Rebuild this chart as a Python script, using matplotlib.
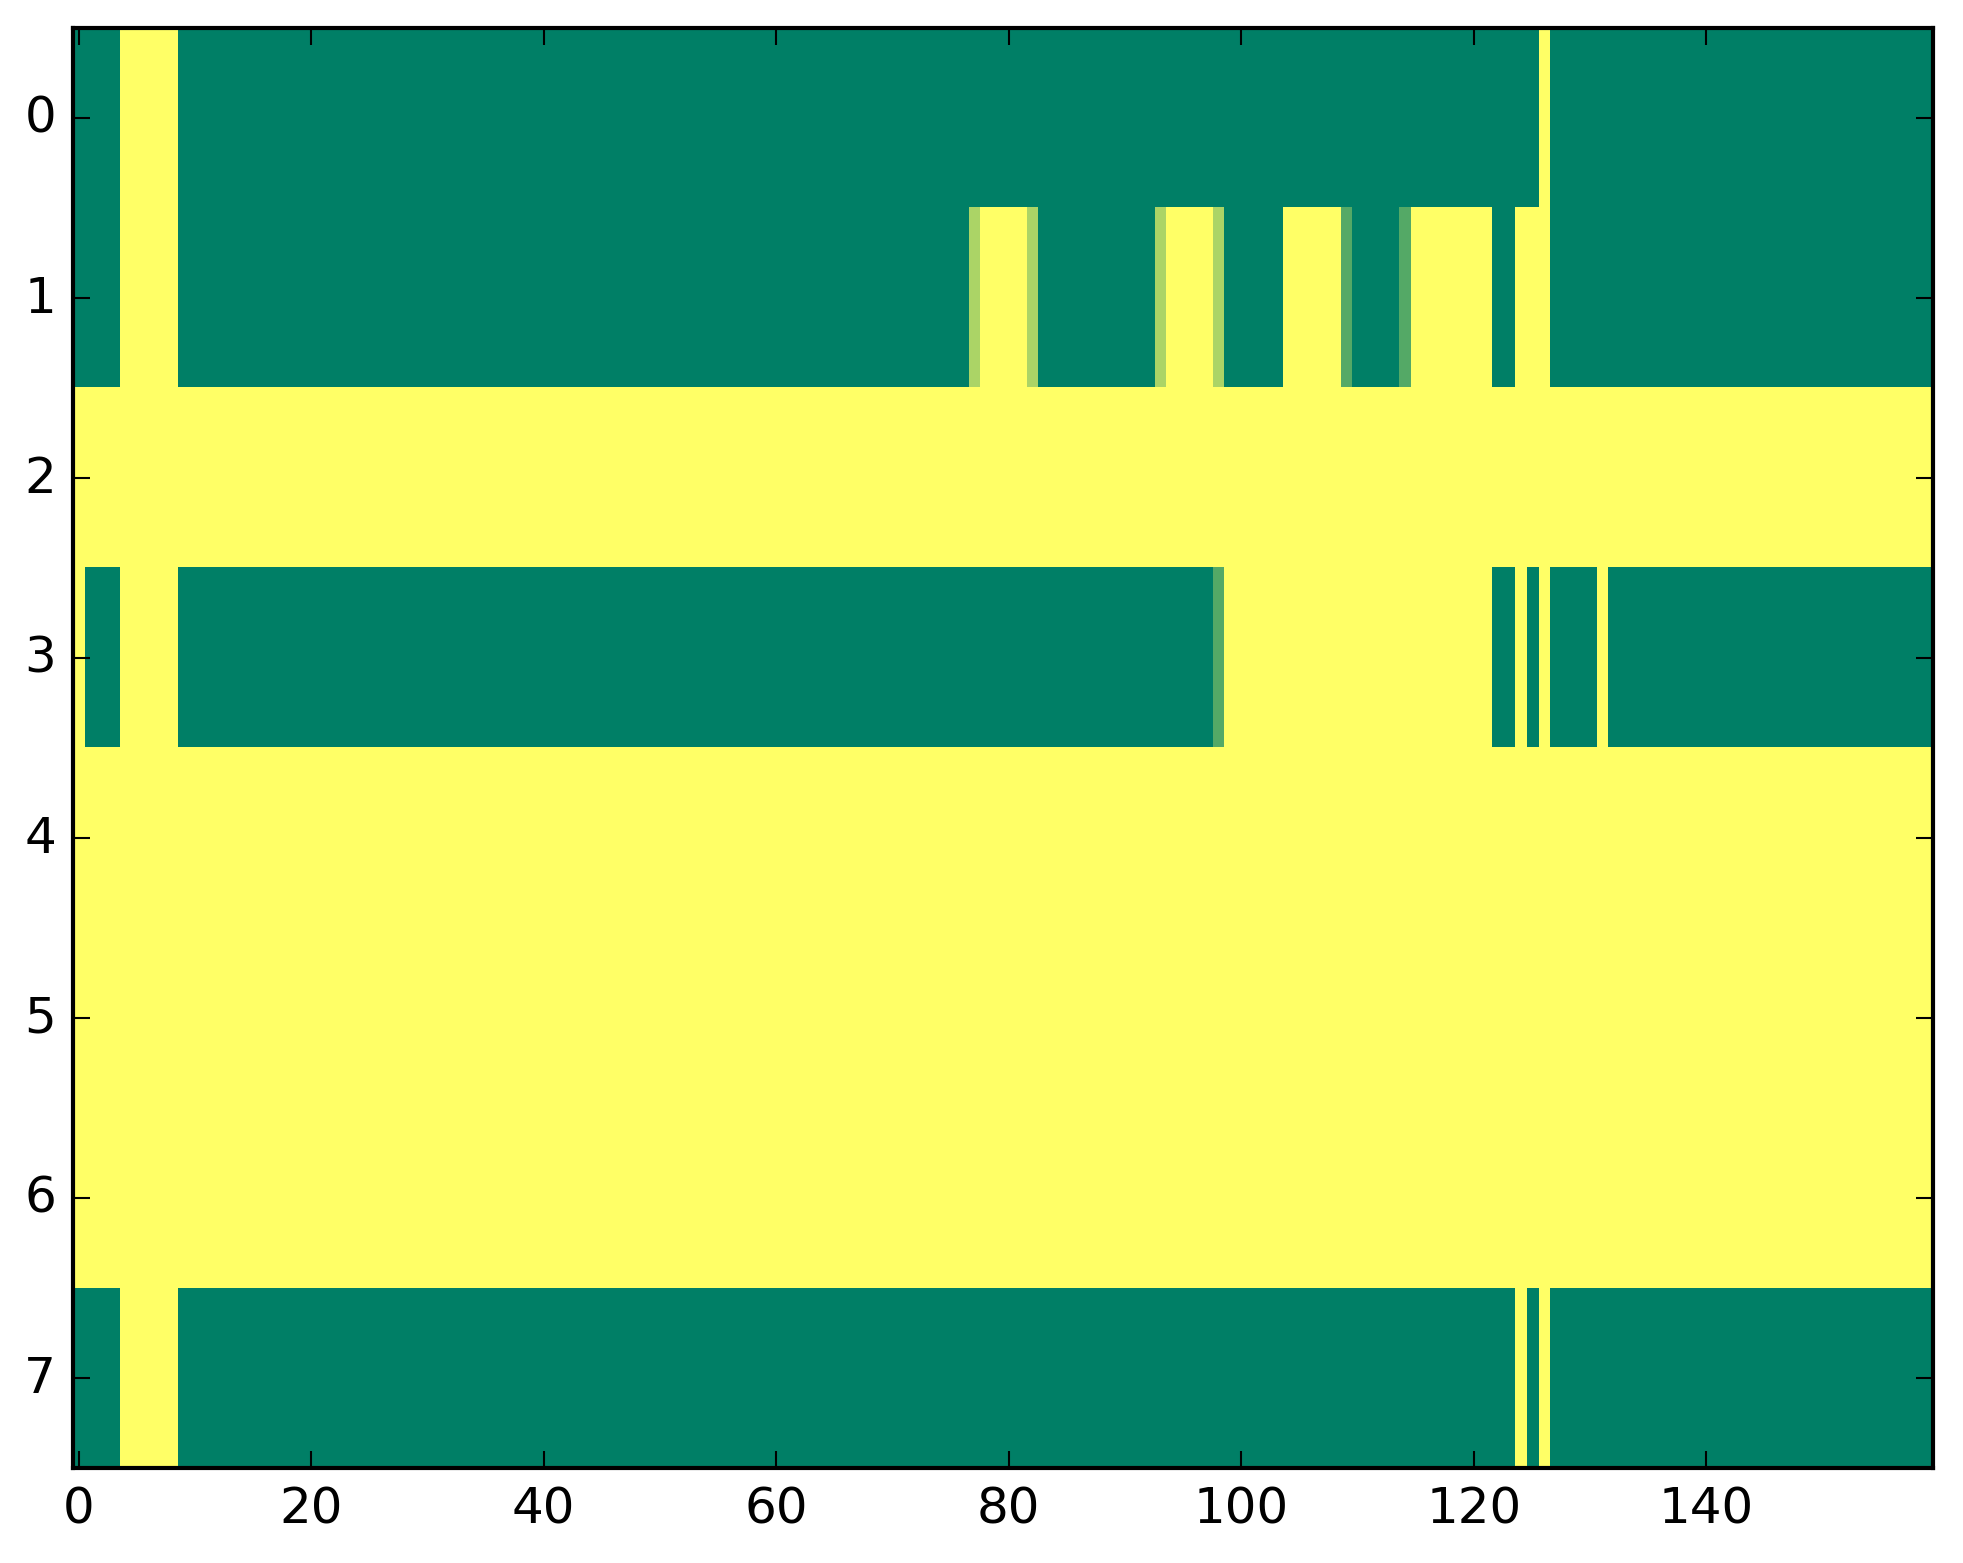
import numpy as np
import matplotlib
matplotlib.use("Agg")
import matplotlib.pyplot as plt

plt.style.use('classic')

# each row as runs of (value, number of columns)
row0 = [(0, 4), (1, 5), (0, 117), (1, 1), (0, 33)]
row1 = [(0, 4), (1, 5), (0, 68), (0.67, 1), (1, 4), (0.67, 1), (0, 10),
        (0.67, 1), (1, 4), (0.67, 1), (0, 5), (1, 5), (0.33, 1), (0, 4),
        (0.33, 1), (1, 7), (0, 2), (1, 3), (0, 33)]
row2 = [(1, 160)]
row3 = [(1, 1), (0, 3), (1, 5), (0, 89), (0.33, 1), (1, 23), (0, 2), (1, 1),
        (0, 1), (1, 1), (0, 4), (1, 1), (0, 28)]
row4 = [(1, 160)]
row5 = [(1, 160)]
row6 = [(1, 160)]
row7 = [(0, 4), (1, 5), (0, 115), (1, 1), (0, 1), (1, 1), (0, 33)]

rows = [row0, row1, row2, row3, row4, row5, row6, row7]


def expand(runs):
    vals = [v for v, n in runs]
    counts = [n for v, n in runs]
    return np.repeat(vals, counts)


data = np.array([expand(r) for r in rows])

fig = plt.figure(figsize=(1963 / 300, 1564 / 300), dpi=300)
ax = fig.add_axes([0.03704, 0.06074, 0.94768, 0.92091])
ax.imshow(data, cmap='summer', vmin=0, vmax=1, aspect='auto',
          interpolation='nearest')
ax.set_xticks(np.arange(0, 160, 20))
ax.set_yticks(np.arange(0, 8))
ax.set_xlim(-0.5, 159.5)
ax.set_ylim(7.5, -0.5)

fig.savefig('out.png', dpi=300)
